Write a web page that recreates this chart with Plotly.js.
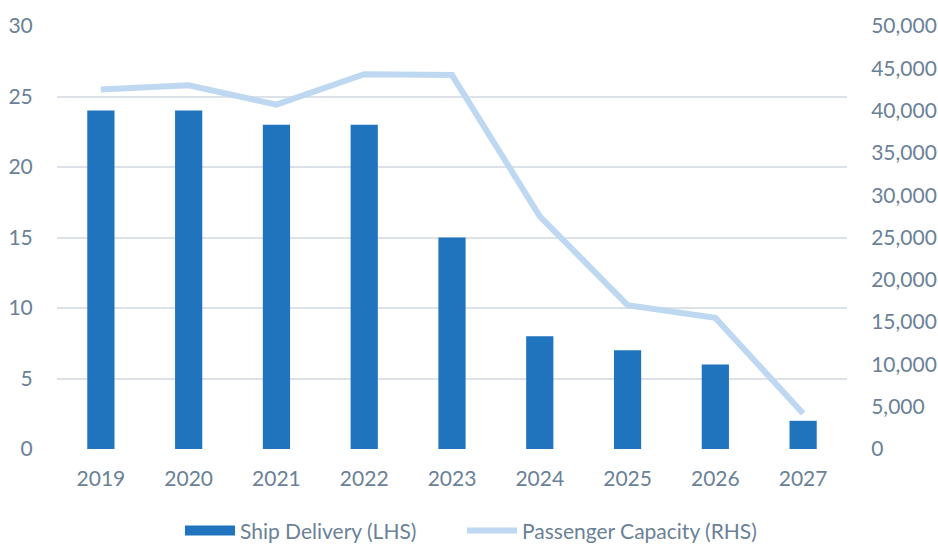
<!DOCTYPE html>
<html>
<head>
<meta charset="utf-8">
<script src="https://cdn.plot.ly/plotly-3.0.1.min.js"></script>
<style>html,body{margin:0;padding:0;background:#fff;}#chart{width:938px;height:545px;}</style>
</head>
<body>
<div id="chart"></div>
<script>
const years = ['2019','2020','2021','2022','2023','2024','2025','2026','2027'];
const shipDelivery = [24, 24, 23, 23, 15, 8, 7, 6, 2];
const passengerCapacity = [42500, 43000, 40700, 44300, 44200, 27500, 17000, 15500, 4200];
const leftTicks = [0, 5, 10, 15, 20, 25, 30];
const rightTicks = [0, 5000, 10000, 15000, 20000, 25000, 30000, 35000, 40000, 45000, 50000];
const seriesNames = ['Ship Delivery (LHS)', 'Passenger Capacity (RHS)'];

const textColor = '#6a8197';
const barColor = '#1f74bd';
const lineColor = '#bdd8f0';
const fontFam = 'Lato, "Open Sans", sans-serif';

const traces = [
  {
    type: 'bar', x: years, y: shipDelivery, name: seriesNames[0],
    marker: {color: barColor}, yaxis: 'y', showlegend: false
  },
  {
    type: 'scatter', mode: 'lines', x: years, y: passengerCapacity,
    name: seriesNames[1], yaxis: 'y2', showlegend: false,
    line: {color: lineColor, width: 6}
  },
  // legend entries (no data points) to mimic the wide swatches
  {
    type: 'scatter', mode: 'lines', x: [null], y: [null], name: seriesNames[0],
    line: {color: barColor, width: 14}, hoverinfo: 'skip', legend: 'legend'
  },
  {
    type: 'scatter', mode: 'lines', x: [null], y: [null], name: seriesNames[1], yaxis: 'y2',
    line: {color: lineColor, width: 6}, hoverinfo: 'skip', legend: 'legend2'
  }
];

const legendBase = {
  orientation: 'h', xref: 'container', xanchor: 'left',
  yref: 'container', y: 0.026, yanchor: 'middle',
  font: {family: fontFam, size: 21, color: textColor},
  itemwidth: 50, bgcolor: 'rgba(0,0,0,0)'
};

const layout = {
  width: 938, height: 545,
  margin: {l: 57, r: 91, t: 26, b: 96},
  paper_bgcolor: '#fff', plot_bgcolor: '#fff',
  font: {family: fontFam, size: 21, color: textColor},
  bargap: 0.69,
  showlegend: true,
  legend: Object.assign({}, legendBase, {x: 180 / 938}),
  legend2: Object.assign({}, legendBase, {x: 462 / 938}),
  xaxis: {
    type: 'category', showgrid: false, zeroline: false, showline: false,
    ticks: 'outside', ticklen: 11, tickcolor: 'rgba(0,0,0,0)',
    tickfont: {family: fontFam, size: 21, color: textColor}
  },
  yaxis: {
    range: [0, 30], tickvals: leftTicks, ticktext: leftTicks.map(String),
    showgrid: true, gridcolor: '#dde2e8', gridwidth: 2,
    zeroline: false, showline: false,
    ticks: 'outside', ticklen: 19, tickcolor: 'rgba(0,0,0,0)',
    tickfont: {family: fontFam, size: 21, color: textColor}
  },
  yaxis2: {
    range: [0, 50000], overlaying: 'y', side: 'right',
    tickvals: rightTicks, ticktext: rightTicks.map(v => v.toLocaleString('en-US')),
    showgrid: false, zeroline: false, showline: false,
    ticks: 'outside', ticklen: 19, tickcolor: 'rgba(0,0,0,0)',
    tickfont: {family: fontFam, size: 21, color: textColor}
  }
};

Plotly.newPlot('chart', traces, layout, {displayModeBar: false, staticPlot: true});
</script>
</body>
</html>
